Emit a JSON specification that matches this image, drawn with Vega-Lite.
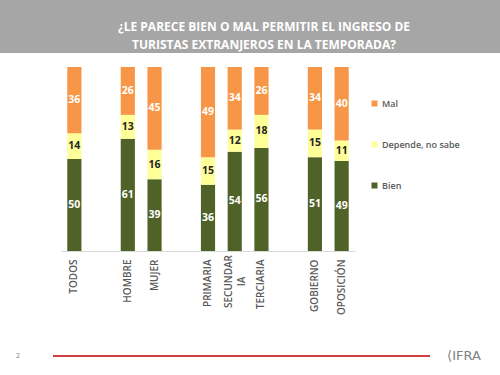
{
  "$schema": "https://vega.github.io/schema/vega-lite/v6.json",
  "padding": 0,
  "background": "white",
  "spacing": 14,
  "bounds": "flush",
  "config": {"view": {"stroke": null}, "font": "Open Sans"},
  "vconcat": [
    {
      "width": 500,
      "height": 53,
      "view": {"fill": "#a6a6a6", "stroke": null},
      "data": {"values": [{}]},
      "mark": {
        "type": "text",
        "text": ["¿LE PARECE BIEN O MAL PERMITIR EL INGRESO DE", "TURISTAS EXTRANJEROS EN LA TEMPORADA?"],
        "font": "Open Sans",
        "fontWeight": "bold",
        "fontSize": 12,
        "color": "white",
        "lineHeight": 18,
        "align": "center",
        "baseline": "middle",
        "dx": 14,
        "dy": 0
      },
      "encoding": {}
    },
    {
      "spacing": 279,
      "bounds": "flush",
      "vconcat": [
        {
          "spacing": 0,
          "bounds": "flush",
          "hconcat": [
            {
              "width": 61,
              "height": 184,
              "data": {"values": [{}]},
              "mark": {"type": "text", "text": ""},
              "encoding": {}
            },
            {
              "width": 294,
              "height": 184,
              "data": {
                "values": [
                  {"cat": "TODOS", "resp": "Bien", "pct": 50},
                  {"cat": "TODOS", "resp": "Depende, no sabe", "pct": 14},
                  {"cat": "TODOS", "resp": "Mal", "pct": 36},
                  {"cat": "HOMBRE", "resp": "Bien", "pct": 61},
                  {"cat": "HOMBRE", "resp": "Depende, no sabe", "pct": 13},
                  {"cat": "HOMBRE", "resp": "Mal", "pct": 26},
                  {"cat": "MUJER", "resp": "Bien", "pct": 39},
                  {"cat": "MUJER", "resp": "Depende, no sabe", "pct": 16},
                  {"cat": "MUJER", "resp": "Mal", "pct": 45},
                  {"cat": "PRIMARIA", "resp": "Bien", "pct": 36},
                  {"cat": "PRIMARIA", "resp": "Depende, no sabe", "pct": 15},
                  {"cat": "PRIMARIA", "resp": "Mal", "pct": 49},
                  {"cat": "SECUNDARIA", "resp": "Bien", "pct": 54},
                  {"cat": "SECUNDARIA", "resp": "Depende, no sabe", "pct": 12},
                  {"cat": "SECUNDARIA", "resp": "Mal", "pct": 34},
                  {"cat": "TERCIARIA", "resp": "Bien", "pct": 56},
                  {"cat": "TERCIARIA", "resp": "Depende, no sabe", "pct": 18},
                  {"cat": "TERCIARIA", "resp": "Mal", "pct": 26},
                  {"cat": "GOBIERNO", "resp": "Bien", "pct": 51},
                  {"cat": "GOBIERNO", "resp": "Depende, no sabe", "pct": 15},
                  {"cat": "GOBIERNO", "resp": "Mal", "pct": 34},
                  {"cat": "OPOSICIÓN", "resp": "Bien", "pct": 49},
                  {"cat": "OPOSICIÓN", "resp": "Depende, no sabe", "pct": 11},
                  {"cat": "OPOSICIÓN", "resp": "Mal", "pct": 40}
                ]
              },
              "encoding": {
                "x": {
                  "field": "cat",
                  "type": "nominal",
                  "scale": {
                    "domain": ["TODOS", "_1", "HOMBRE", "MUJER", "_2", "PRIMARIA", "SECUNDARIA", "TERCIARIA", "_3", "GOBIERNO", "OPOSICIÓN"],
                    "paddingInner": 0.47,
                    "paddingOuter": 0.235
                  },
                  "axis": {
                    "title": null,
                    "labelAngle": -90,
                    "labelAlign": {"condition": {"test": "datum.value == 'SECUNDARIA'", "value": "center"}, "value": "right"},
                    "labelBaseline": "middle",
                    "ticks": false,
                    "labelPadding": {"condition": {"test": "datum.value == 'SECUNDARIA'", "value": 30}, "value": 8},
                    "labelOffset": {"condition": {"test": "datum.value == 'SECUNDARIA'", "value": -6}, "value": 0},
                    "domainColor": "#d9d9d9",
                    "domainWidth": 1,
                    "labelFont": "Open Sans",
                    "labelFontWeight": 600,
                    "labelFontSize": 10,
                    "labelColor": "#595959",
                    "labelLineHeight": 13,
                    "labelOverlap": false,
                    "labelExpr": "datum.value == 'SECUNDARIA' ? ['SECUNDAR', 'IA'] : (indexof(datum.value, '_') == 0 ? '' : datum.value)"
                  }
                }
              },
              "layer": [
                {
                  "mark": {"type": "bar"},
                  "encoding": {
                    "y": {"field": "pct", "type": "quantitative", "stack": "zero", "scale": {"domain": [0, 100]}, "axis": null},
                    "color": {
                      "field": "resp",
                      "type": "nominal",
                      "scale": {"domain": ["Mal", "Depende, no sabe", "Bien"], "range": ["#f79646", "#ffff99", "#4f6228"]},
                      "legend": {
                        "title": null,
                        "orient": "none",
                        "legendX": 370,
                        "legendY": 99,
                        "padding": 0,
                        "symbolType": "square",
                        "symbolSize": 36,
                        "symbolStrokeWidth": 0,
                        "labelFont": "Open Sans",
                        "labelFontSize": 9,
                        "labelFontWeight": 600,
                        "labelColor": "#595959",
                        "labelOffset": 3,
                        "rowPadding": 31
                      }
                    },
                    "order": {"field": "resp", "sort": "ascending"}
                  }
                },
                {
                  "transform": [
                    {"stack": "pct", "groupby": ["cat"], "sort": [{"field": "resp", "order": "ascending"}], "as": ["y0", "y1"]},
                    {"fold": ["y0", "y1"], "as": ["edge", "ypos"]},
                    {"aggregate": [{"op": "mean", "field": "ypos", "as": "mid"}], "groupby": ["cat", "resp", "pct"]}
                  ],
                  "mark": {"type": "text", "font": "Open Sans", "fontWeight": "bold", "fontSize": 10.5, "baseline": "middle"},
                  "encoding": {
                    "y": {"field": "mid", "type": "quantitative"},
                    "text": {"field": "pct", "type": "quantitative"},
                    "color": {
                      "condition": {"test": "datum.resp == 'Depende, no sabe'", "value": "#262626"},
                      "value": "#ffffff"
                    }
                  }
                }
              ]
            }
          ]
        },
        {
          "spacing": 17,
          "bounds": "flush",
          "hconcat": [
            {
              "width": 36,
              "height": 20,
              "data": {"values": [{}]},
              "mark": {"type": "text", "text": "2", "fontSize": 7, "color": "#7f7f7f", "font": "Open Sans"},
              "encoding": {}
            },
            {
              "width": 377,
              "height": 20,
              "data": {"values": [{}]},
              "mark": {"type": "rule", "color": "#c00000", "strokeWidth": 1.5},
              "encoding": {"y": {"datum": "line", "type": "nominal", "axis": null}}
            },
            {
              "width": 34,
              "height": 20,
              "data": {"values": [{}]},
              "mark": {"type": "text", "text": "⟨IFRA", "fontSize": 13, "color": "#808080", "font": "DejaVu Sans"},
              "encoding": {}
            }
          ]
        }
      ]
    }
  ]
}
